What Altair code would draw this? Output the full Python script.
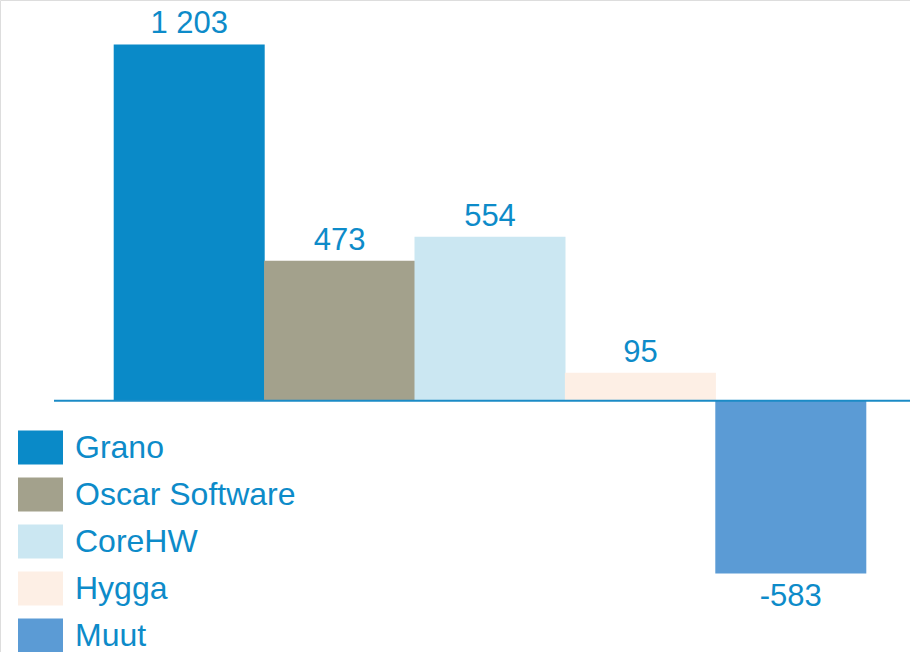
import altair as alt
import pandas as pd

categories = ["Grano", "Oscar Software", "CoreHW", "Hygga", "Muut"]
values = [1203, 473, 554, 95, -583]
colors = ["#0a8ac8", "#a3a18c", "#cbe7f2", "#fdefe5", "#5b9bd5"]

TEXT_COLOR = "#0d8bc9"
FONT = "Liberation Sans"

df = pd.DataFrame({"category": categories, "value": values})

x = alt.X("category:N", sort=categories, axis=None,
          scale=alt.Scale(domain=categories, range=[114, 866], paddingInner=0, paddingOuter=0))
y_scale = alt.Scale(domain=[-848, 1353], nice=False, zero=False)

base = alt.Chart(df)

bars = base.mark_bar(size=151).encode(
    x=x,
    y=alt.Y("value:Q", scale=y_scale, axis=None),
    y2=alt.datum(0),
    color=alt.Color(
        "category:N",
        sort=categories,
        scale=alt.Scale(domain=categories, range=colors),
        legend=alt.Legend(
            title=None,
            orient="none",
            legendX=18,
            legendY=425,
            padding=0,
            symbolType="M-1,-0.755H1V0.755H-1Z",
            symbolSize=2025,
            symbolStrokeWidth=0,
            symbolOpacity=1,
            labelFont=FONT,
            labelFontSize=32,
            labelColor=TEXT_COLOR,
            labelOffset=12,
            rowPadding=7,
            labelLimit=400,
        ),
    ),
)

zero_line = alt.Chart(pd.DataFrame({"z": [0]})).mark_rule(
    color="#1b8bc6", strokeWidth=2
).encode(
    y=alt.Y("z:Q", scale=y_scale),
    x=alt.value(54),
    x2=alt.value(910),
)

label_calc = "replace(replace(format(datum.value, ','), ',', ' '), '\u2212', '-')"

pos_labels = base.transform_filter("datum.value >= 0").transform_calculate(
    label=label_calc
).mark_text(
    baseline="alphabetic", dy=-11, font=FONT, fontSize=31, color=TEXT_COLOR
).encode(
    x=x,
    y=alt.Y("value:Q", scale=y_scale),
    text="label:N",
)

neg_labels = base.transform_filter("datum.value < 0").transform_calculate(
    label=label_calc
).mark_text(
    baseline="top", dy=9, font=FONT, fontSize=31, color=TEXT_COLOR
).encode(
    x=x,
    y=alt.Y("value:Q", scale=y_scale),
    text="label:N",
)

chart = alt.layer(bars, zero_line, pos_labels, neg_labels).properties(
    width=910, height=652, padding=0, background="white"
).configure_view(stroke=None).configure(autosize=alt.AutoSizeParams(type="none"))

chart.save("out.html", embed_options={"renderer": "svg", "actions": False})
